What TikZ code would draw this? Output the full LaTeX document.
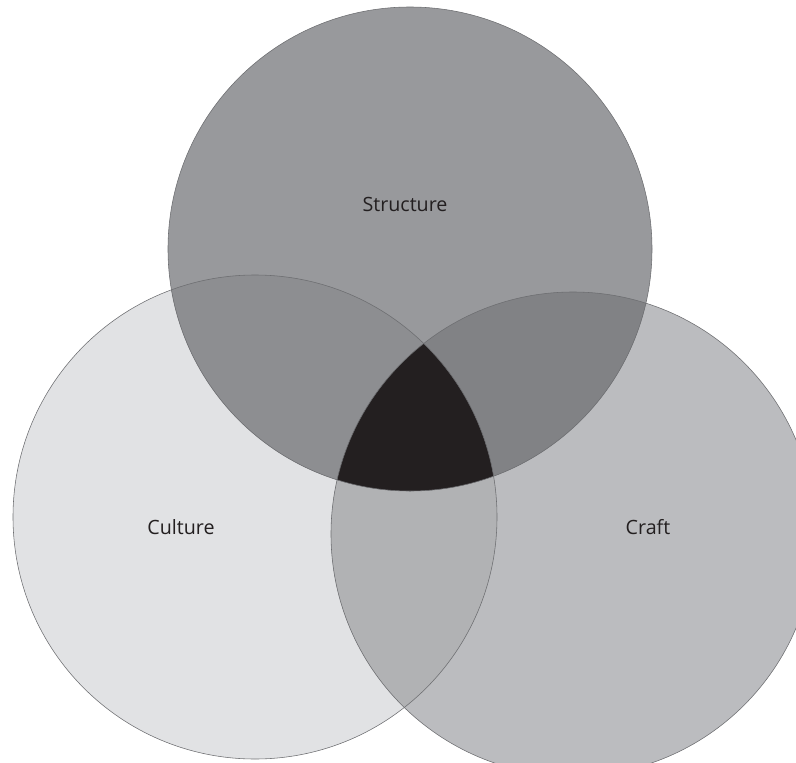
\documentclass[tikz,border=0pt]{standalone}
\usepackage{fontspec}
\setmainfont{Open Sans}
\usetikzlibrary{positioning}

\definecolor{structfill}{HTML}{98999C}
\definecolor{culturefill}{HTML}{E1E2E4}
\definecolor{craftfill}{HTML}{BBBCBF}
\definecolor{structculture}{HTML}{8D8E91}
\definecolor{structcraft}{HTML}{818285}
\definecolor{culturecraft}{HTML}{B1B2B4}
\definecolor{allthree}{HTML}{231F20}
\definecolor{rim}{HTML}{6D6E71}

\begin{document}
\begin{tikzpicture}[x=0.025cm,y=-0.025cm,every node/.style={font=\fontsize{14}{16}\selectfont,text=allthree}]
      \useasboundingbox (0,0) rectangle (796,763);
      \clip (0,0) rectangle (796,763);
      \coordinate (S) at (410,249);
      \coordinate (Cu) at (255,517);
      \coordinate (Cr) at (573,534);
      % single sets
      \fill[culturefill] (Cu) circle (242);
      \fill[craftfill] (Cr) circle (242);
      \fill[structfill] (S) circle (242);
      % pairwise overlaps
      \begin{scope}
        \clip (Cu) circle (242);
        \fill[culturecraft] (Cr) circle (242);
        \fill[structculture] (S) circle (242);
      \end{scope}
      \begin{scope}
        \clip (Cr) circle (242);
        \fill[structcraft] (S) circle (242);
        \clip (S) circle (242);
        \fill[allthree] (Cu) circle (242);
      \end{scope}
      \draw[rim,line width=0.4pt] (Cu) circle (242);
      \draw[rim,line width=0.4pt] (Cr) circle (242);
      \draw[rim,line width=0.4pt] (S) circle (242);
      \node (structure) at (405,204) {Structure};
      \node (culture) at (181,527) {Culture};
      \node (craft) at (648,527) {Craft};
    \end{tikzpicture}
\end{document}
